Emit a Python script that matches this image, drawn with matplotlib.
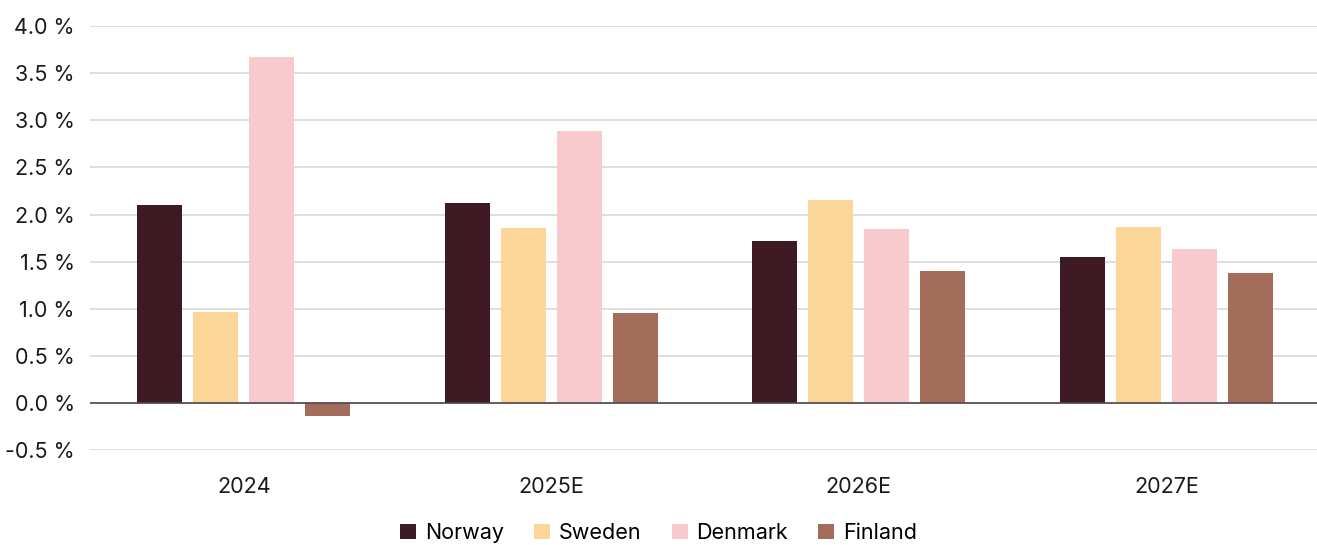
import matplotlib
matplotlib.use("Agg")
from matplotlib import pyplot as plt
import numpy as np

plt.rcParams['font.family'] = ['Inter', 'DejaVu Sans']

# data (GDP-like growth, %)
years = ["2024", "2025E", "2026E", "2027E"]
norway = [2.10, 2.12, 1.72, 1.55]
sweden = [0.97, 1.86, 2.16, 1.87]
denmark = [3.67, 2.89, 1.85, 1.63]
finland = [-0.14, 0.96, 1.40, 1.38]

series = [("Norway", norway, "#3e1a24"),
          ("Sweden", sweden, "#fcd599"),
          ("Denmark", denmark, "#f8cace"),
          ("Finland", finland, "#a46d5b")]

fig = plt.figure(figsize=(13.17, 5.45), dpi=100)
ax = fig.add_axes([0.0683, 0.174, 0.9317, 0.778])

x = np.arange(len(years))
w = 0.146
step = 0.182
for i, (name, vals, col) in enumerate(series):
    ax.bar(x + (i - 1.5) * step, vals, width=w, color=col, label=name, zorder=2)

ax.set_xlim(-0.5, 3.49)
ax.set_ylim(-0.5, 4.0)
ticks = np.arange(-0.5, 4.01, 0.5)
ax.set_yticks(ticks)
ax.set_yticklabels([f"{v:.1f} %" for v in ticks])
ax.set_xticks(x)
ax.set_xticklabels(years)
ax.grid(axis="y", color="#d9d9d9", linewidth=1.2, zorder=0)
ax.axhline(0, color="#4a4a4a", linewidth=1.2, zorder=3)
for s in ax.spines.values():
    s.set_visible(False)
ax.tick_params(axis="both", length=0, labelsize=15.5, colors="#1a1a1a")
ax.tick_params(axis="y", pad=11)
ax.tick_params(axis="x", pad=19)

fig.legend(loc="center", bbox_to_anchor=(0.5, 0.022), ncol=4, frameon=False,
           fontsize=15.5, handlelength=0.75, handleheight=0.75,
           handletextpad=0.4, columnspacing=1.4)

plt.savefig("out.png", dpi=100)
